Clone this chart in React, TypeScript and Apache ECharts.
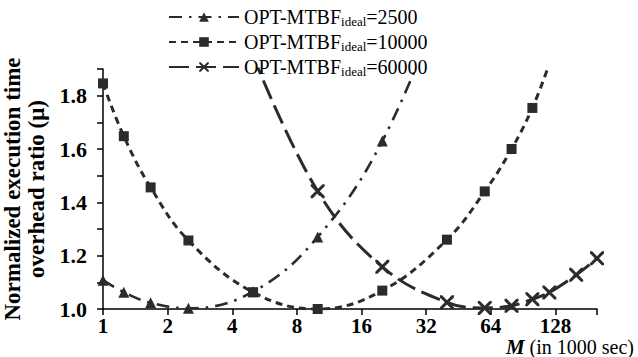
import React, { useEffect, useRef } from 'react';
import * as echarts from 'echarts';

// M values (in 1000 sec) and normalized overhead ratio for each ideal MTBF
const mtbf2500X = [1, 1.25, 1.667, 2.5, 5, 10, 20, 40];
const mtbf2500Y = [1.108, 1.063, 1.023, 1.003, 1.065, 1.27, 1.63, 2.2];
const mtbf10000X = [1, 1.25, 1.667, 2.5, 5, 10, 20, 40, 60, 80, 100, 120];
const mtbf10000Y = [1.846, 1.648, 1.456, 1.257, 1.063, 1.0, 1.069, 1.26, 1.441, 1.6, 1.754, 1.92];
const mtbf60000X = [5, 10, 20, 40, 60, 80, 100, 120, 160, 200];
const mtbf60000Y = [1.95, 1.442, 1.158, 1.025, 1.004, 1.012, 1.037, 1.062, 1.128, 1.19];

const seriesLabels = ['2500', '10000', '60000'];
const yTickLabels = ['1.0', '1.2', '1.4', '1.6', '1.8'];
const xTitleBold = 'M';
const xTitleRest = ' (in 1000 sec)';
const yTitle = 'Normalized execution time\noverhead ratio (μ)';

const FONT = 'Liberation Serif';
const INK = '#2b2b2b';
const X_PATH = 'path://M0,0 L3,0 L10,7 L17,0 L20,0 L20,3 L13,10 L20,17 L20,20 L17,20 L10,13 L3,20 L0,20 L0,17 L7,10 L0,3 Z';

function pairs(xs: number[], ys: number[]) {
  return xs.map((x, i) => [x, ys[i]]);
}

export default function App() {
  const ref = useRef<HTMLDivElement>(null);
  useEffect(() => {
    if (!ref.current) return;
    const chart = echarts.init(ref.current, undefined, { renderer: 'svg' });
    const mkName = (v: string) => `OPT-MTBF ideal=${v}`;
    chart.setOption({
      animation: false,
      backgroundColor: '#fff',
      grid: { left: 103, right: 41, top: 69, bottom: 48, containLabel: false, outerBoundsMode: 'none' },
      legend: {
        orient: 'vertical',
        left: 163,
        top: 2,
        itemWidth: 70,
        itemHeight: 12,
        itemGap: 4,
        data: seriesLabels.map(mkName),
        formatter: (name: string) => `{a|OPT-MTBF}{b|ideal}{a|=${name.split('=')[1]}}`,
        textStyle: {
          color: '#000',
          fontFamily: FONT,
          rich: {
            a: { fontFamily: FONT, fontSize: 20, lineHeight: 22, color: '#000' },
            b: { fontFamily: FONT, fontSize: 13, lineHeight: 13, verticalAlign: 'bottom', color: '#000' },
          },
        },
      },
      xAxis: {
        type: 'log',
        logBase: 2,
        min: 1,
        max: 200,
        axisLine: { onZero: false, lineStyle: { color: '#000', width: 1.5 } },
        axisTick: { length: 6, lineStyle: { color: '#000', width: 1.5 } },
        splitLine: { show: false },
        axisLabel: {
          margin: 7,
          color: '#000',
          fontFamily: FONT,
          fontWeight: 'bold',
          fontSize: 21,
          lineHeight: 19,
          formatter: (v: number) => {
            const l = Math.log2(v);
            return Math.abs(l - Math.round(l)) < 1e-6 ? String(Math.round(v)) : '';
          },
        },
      },
      yAxis: {
        type: 'value',
        min: 1,
        max: 1.9,
        interval: 0.1,
        name: yTitle,
        nameLocation: 'middle',
        nameGap: 38,
        nameTextStyle: { color: '#000', fontFamily: FONT, fontWeight: 'bold', fontSize: 23, lineHeight: 24 },
        axisLine: { show: true, onZero: false, lineStyle: { color: '#000', width: 1.5 } },
        axisTick: { show: true, length: 6, lineStyle: { color: '#000', width: 1.5 } },
        splitLine: { show: false },
        axisLabel: {
          margin: 16,
          color: '#000',
          fontFamily: FONT,
          fontWeight: 'bold',
          fontSize: 22,
          formatter: (v: number) => {
            const s = v.toFixed(1);
            return yTickLabels.includes(s) ? s : '';
          },
        },
      },
      series: [
        {
          name: mkName(seriesLabels[0]),
          type: 'line',
          smooth: 0.4,
          clip: true,
          data: pairs(mtbf2500X, mtbf2500Y),
          symbol: 'triangle',
          symbolSize: 11,
          color: INK,
          itemStyle: { color: INK },
          lineStyle: { color: INK, width: 2.6, type: [13, 7, 2.5, 7] },
        },
        {
          name: mkName(seriesLabels[1]),
          type: 'line',
          smooth: 0.4,
          clip: true,
          data: pairs(mtbf10000X, mtbf10000Y),
          symbol: 'rect',
          symbolSize: 10,
          color: INK,
          itemStyle: { color: INK },
          lineStyle: { color: INK, width: 3, type: [7, 5] },
        },
        {
          name: mkName(seriesLabels[2]),
          type: 'line',
          smooth: 0.4,
          clip: true,
          data: pairs(mtbf60000X, mtbf60000Y),
          symbol: X_PATH,
          symbolSize: 14,
          color: INK,
          itemStyle: { color: INK },
          lineStyle: { color: INK, width: 3, type: [20, 7] },
        },
      ],
      graphic: [
        {
          type: 'text',
          right: 4,
          top: 336,
          style: {
            text: `{m|${xTitleBold}}{r|${xTitleRest}}`,
            fill: '#000',
            rich: {
              m: { fontFamily: FONT, fontSize: 21, lineHeight: 19, fontWeight: 'bold', fontStyle: 'italic', fill: '#000' },
              r: { fontFamily: FONT, fontSize: 20, lineHeight: 19, fill: '#000' },
            },
          },
        },
      ],
    });
    return () => chart.dispose();
  }, []);
  return (
    <div
      ref={ref}
      style={{ position: 'fixed', left: 0, top: 0, width: 638, height: 357, background: '#fff' }}
    />
  );
}
